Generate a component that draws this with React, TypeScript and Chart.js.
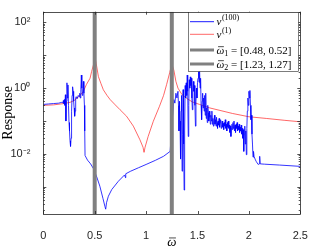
import { useEffect, useRef } from "react";
import { Chart, registerables } from "chart.js";

Chart.register(...registerables);

// ---- data ----
const redOmega = [0, 0.1, 0.2, 0.26, 0.3, 0.357, 0.39, 0.42, 0.455, 0.47, 0.487, 0.497, 0.505, 0.515, 0.536, 0.56, 0.584, 0.62, 0.65, 0.7, 0.747, 0.81, 0.876, 0.94, 0.97, 0.98, 0.99, 1.02, 1.07, 1.13, 1.17, 1.2, 1.23, 1.25, 1.27, 1.29, 1.31, 1.35, 1.39, 1.45, 1.52, 1.62, 1.84, 2.0, 2.17, 2.35, 2.5];
const redResponse = [0.3, 0.31, 0.34, 0.37, 0.42, 0.6, 0.8, 1.3, 2.0, 3.2, 5.0, 7.5, 8.1, 5.5, 2.24, 1.4, 0.89, 0.6, 0.45, 0.31, 0.22, 0.14, 0.07, 0.027, 0.016, 0.0112, 0.016, 0.034, 0.098, 0.28, 0.6, 1.3, 3.0, 5.5, 3.5, 1.6, 1.0, 0.63, 0.5, 0.38, 0.32, 0.25, 0.17, 0.135, 0.12, 0.105, 0.095];

const blueOmega = [
  0, 0.05, 0.1, 0.15, 0.18, 0.19, 0.195, 0.2, 0.205, 0.21, 0.215, 0.22, 0.225, 0.23, 0.235, 0.24, 0.245, 0.25, 0.255, 0.26, 0.265, 0.27, 0.275, 0.28, 0.285, 0.29, 0.295, 0.3, 0.305, 0.31, 0.315, 0.32, 0.33, 0.34, 0.35, 0.355, 0.36, 0.365, 0.37, 0.375, 0.38, 0.385, 0.39, 0.395, 0.4, 0.403, 0.406,
  0.43, 0.46, 0.49, 0.52, 0.55, 0.58, 0.6, 0.607, 0.615, 0.633, 0.666, 0.73, 0.79, 0.8, 0.802, 0.85, 0.925, 1.0, 1.09, 1.17, 1.234, 1.25, 1.27,
  1.28, 1.29, 1.3, 1.31, 1.315, 1.32, 1.325, 1.33, 1.335, 1.34, 1.345, 1.35, 1.355, 1.36, 1.365, 1.37, 1.375, 1.38, 1.385, 1.39, 1.395, 1.4, 1.405, 1.41, 1.415, 1.42, 1.425, 1.43, 1.435, 1.44, 1.445, 1.45, 1.455, 1.46, 1.465, 1.47, 1.475, 1.48, 1.485, 1.49, 1.495, 1.5, 1.505, 1.51, 1.515, 1.52, 1.525, 1.53, 1.535, 1.54, 1.545, 1.55,
  1.555, 1.56, 1.565, 1.57, 1.575, 1.58, 1.585, 1.59, 1.595, 1.6, 1.605, 1.61, 1.615, 1.62, 1.625, 1.63, 1.635, 1.64, 1.645, 1.65, 1.655, 1.66, 1.665, 1.67, 1.675, 1.68, 1.685, 1.69, 1.695, 1.7, 1.705, 1.71, 1.715, 1.72, 1.725, 1.73, 1.735, 1.74, 1.745, 1.75, 1.755, 1.76, 1.765, 1.77, 1.775, 1.78, 1.785, 1.79, 1.795, 1.8, 1.805, 1.81, 1.815, 1.82, 1.825, 1.83, 1.835, 1.84, 1.845, 1.85, 1.855, 1.86, 1.865, 1.87, 1.875, 1.88, 1.885, 1.89, 1.895, 1.9, 1.905, 1.91, 1.915, 1.92, 1.925, 1.93, 1.935, 1.94, 1.945, 1.95, 1.955, 1.96, 1.965, 1.97, 1.975, 1.98, 1.985, 1.99, 1.995, 2.0, 2.005, 2.01, 2.015, 2.02, 2.025, 2.03, 2.035, 2.04, 2.045, 2.05, 2.06, 2.07, 2.09, 2.1, 2.105, 2.11, 2.15, 2.3, 2.5,
];
const blueResponse = [
  0.32, 0.33, 0.34, 0.35, 0.37, 0.36, 0.42, 0.34, 0.45, 0.3, 0.63, 0.1, 0.4, 1.45, 0.5, 1.25, 0.3, 0.09, 0.05, 0.025, 0.017, 0.03, 0.2, 0.6, 1.1, 0.8, 0.4, 0.25, 0.14, 0.2, 0.5, 0.55, 0.48, 0.6, 0.55, 0.7, 0.5, 0.9, 2.5, 1.0, 0.6, 0.8, 1.6, 0.7, 0.3, 0.05, 0.009,
  0.0065, 0.005, 0.0035, 0.002, 0.00105, 0.00045, 0.00025, 0.00021, 0.00033, 0.00052, 0.00083, 0.00148, 0.0023, 0.0019, 0.0025, 0.003, 0.0038, 0.0048, 0.0064, 0.0085, 0.012, 0.07, 0.45,
  0.35, 0.7, 0.5, 0.8, 0.3, 0.05, 0.4, 0.1, 0.007, 0.2, 0.6, 0.003, 0.04, 0.9, 0.02, 0.0008, 0.05, 1.2, 0.5, 1.45, 0.6, 2.5, 0.8, 0.034, 0.3, 1.8, 1.0, 2.2, 1.2, 2.0, 0.5, 0.22, 0.9, 1.6, 0.8, 1.2, 0.3, 0.07, 0.4, 1.0, 0.5, 1.5, 2.0, 3.2, 1.5, 3.5, 1.0, 2.0, 0.3, 0.11, 0.4, 0.7,
  0.25, 0.5, 0.2, 0.6, 0.15, 0.7, 0.12, 0.25, 0.09, 0.3, 0.18, 0.1, 0.2, 0.13, 0.08, 0.15, 0.1, 0.2, 0.08, 0.12, 0.07, 0.1, 0.15, 0.08, 0.11, 0.07, 0.13, 0.09, 0.06, 0.1, 0.075, 0.12, 0.065, 0.09, 0.11, 0.06, 0.08, 0.1, 0.065, 0.085, 0.055, 0.09, 0.07, 0.11, 0.06, 0.08, 0.05, 0.09, 0.065, 0.1, 0.06, 0.075, 0.045, 0.07, 0.034, 0.06, 0.08, 0.055, 0.09, 0.06, 0.1, 0.05, 0.075, 0.045, 0.08, 0.06, 0.09, 0.05, 0.07, 0.055, 0.08, 0.045, 0.065, 0.05, 0.075, 0.04, 0.06, 0.03, 0.055, 0.012, 0.04, 0.07, 0.02, 0.05, 0.0095, 0.06, 0.2, 0.5, 0.3, 0.8, 0.5, 0.85, 0.3, 0.11, 0.15, 0.04, 0.02, 0.008, 0.012, 0.0085, 0.007, 0.006, 0.0048, 0.005, 0.0085, 0.005, 0.0049, 0.0046, 0.0042,
];

const bandCenters = [0.5, 1.25];
const xTickValues = [0, 0.5, 1, 1.5, 2, 2.5];
const yLabelValues = [1e-2, 1, 1e2];
const yLabelTexts = ["10⁻²", "10⁰", "10²"];
const legendTexts = [
  { base: "v", sup: "(100)" },
  { base: "v", sup: "(1)" },
  { base: "ω", sub: "1", rest: " = [0.48, 0.52]" },
  { base: "ω", sub: "2", rest: " = [1.23, 1.27]" },
];
const xTitle = "ω";
const yTitle = "Response";
const yMin = 1.5e-4;
const yMax = 210;
const xMin = 0;
const xMax = 2.5;

const AXIS = "#262626";
const SERIF = "'Liberation Serif', 'DejaVu Serif', serif";
const SANS = "'Liberation Sans', Arial, sans-serif";

// draws an italic omega with a bar over it; returns width
function drawOmegaBar(ctx: CanvasRenderingContext2D, x: number, y: number, size: number) {
  ctx.font = `italic ${size}px ${SERIF}`;
  ctx.fillText("ω", x, y);
  const w = ctx.measureText("ω").width;
  ctx.save();
  ctx.strokeStyle = ctx.fillStyle as string;
  ctx.lineWidth = 0.7;
  ctx.beginPath();
  const by = y - size * 0.62;
  ctx.moveTo(x + w * 0.2, by);
  ctx.lineTo(x + w * 0.95, by);
  ctx.stroke();
  ctx.restore();
  return w;
}

const boxTicksPlugin = {
  id: "boxTicks",
  afterDatasetsDraw(chart: any) {
    const { ctx, chartArea: a, scales } = chart;
    const xs = scales.x;
    const ys = scales.y;
    ctx.save();
    ctx.strokeStyle = AXIS;
    ctx.lineWidth = 0.8;
    ctx.beginPath();
    for (const v of xTickValues) {
      const px = Math.round(xs.getPixelForValue(v)) + 0.5;
      ctx.moveTo(px, a.bottom);
      ctx.lineTo(px, a.bottom - 3);
      ctx.moveTo(px, a.top);
      ctx.lineTo(px, a.top + 3);
    }
    for (let e = -4; e <= 2; e++) {
      for (let m = 1; m <= 9; m++) {
        const v = m * Math.pow(10, e);
        if (v < yMin || v > yMax) continue;
        const py = Math.round(ys.getPixelForValue(v)) + 0.5;
        const len = m === 1 ? 3 : 1.6;
        ctx.moveTo(a.left, py);
        ctx.lineTo(a.left + len, py);
        ctx.moveTo(a.right, py);
        ctx.lineTo(a.right - len, py);
      }
    }
    ctx.stroke();
    ctx.strokeRect(Math.round(a.left) + 0.5, Math.round(a.top) + 0.5, Math.round(a.right - a.left), Math.round(a.bottom - a.top));
    // x-axis title (omega with bar)
    ctx.fillStyle = "#000";
    ctx.textBaseline = "alphabetic";
    ctx.font = `italic 13px ${SERIF}`;
    const w = ctx.measureText(xTitle).width;
    drawOmegaBar(ctx, (a.left + a.right) / 2 - w / 2, 246, 13);
    ctx.restore();
  },
};

const legendPlugin = {
  id: "boxLegend",
  afterDraw(chart: any) {
    const { ctx } = chart;
    const x0 = 188.5, y0 = 12.5, x1 = 298.5, y1 = 71.5;
    ctx.save();
    ctx.fillStyle = "#ffffff";
    ctx.fillRect(x0, y0, x1 - x0, y1 - y0);
    ctx.strokeStyle = AXIS;
    ctx.lineWidth = 0.6;
    ctx.strokeRect(x0, y0, x1 - x0, y1 - y0);
    const lx0 = 190, lx1 = 214, tx = 216.5;
    const rows = [
      { y: 21.7, color: "rgb(0,0,255)", w: 0.9, base: 25 },
      { y: 34.3, color: "rgb(255,0,0)", w: 0.6, base: 38 },
      { y: 50, color: "rgb(128,128,128)", w: 3, base: 53.5 },
      { y: 64, color: "rgb(128,128,128)", w: 3, base: 67.5 },
    ];
    rows.forEach((r, i) => {
      ctx.strokeStyle = r.color;
      ctx.lineWidth = r.w;
      ctx.beginPath();
      ctx.moveTo(lx0, r.y);
      ctx.lineTo(lx1, r.y);
      ctx.stroke();
      const t: any = legendTexts[i];
      ctx.fillStyle = "#000";
      ctx.textBaseline = "alphabetic";
      if (t.sup) {
        ctx.font = `italic 11px ${SERIF}`;
        ctx.fillText(t.base, tx, r.base);
        const w = ctx.measureText(t.base).width;
        ctx.font = `8px ${SERIF}`;
        ctx.fillText(t.sup, tx + w + 0.5, r.base - 5);
      } else {
        let w = drawOmegaBar(ctx, tx, r.base, 11);
        ctx.font = `8px ${SERIF}`;
        ctx.fillText(t.sub, tx + w, r.base + 2);
        w += ctx.measureText(t.sub).width;
        ctx.font = `11px ${SERIF}`;
        ctx.fillText(t.rest, tx + w, r.base);
      }
    });
    ctx.restore();
  },
};

export default function App() {
  const ref = useRef<HTMLCanvasElement | null>(null);
  useEffect(() => {
    if (!ref.current) return;
    const red = redOmega.map((x, i) => ({ x, y: redResponse[i] }));
    const blue = blueOmega.map((x, i) => ({ x, y: blueResponse[i] }));
    const bands = bandCenters.map((c) => ({
      label: "band",
      data: [
        { x: c, y: yMin },
        { x: c, y: yMax },
      ],
      borderColor: "rgb(128,128,128)",
      borderWidth: 4,
      pointRadius: 0,
      order: 0,
    }));
    const chart = new Chart(ref.current, {
      type: "line",
      data: {
        datasets: [
          ...bands,
          { label: "v(100)", data: blue, borderColor: "rgb(0,0,255)", borderWidth: 0.8, pointRadius: 0, order: 1 },
          { label: "v(1)", data: red, borderColor: "rgb(255,0,0)", borderWidth: 0.6, pointRadius: 0, order: 2 },
        ] as any,
      },
      options: {
        animation: false,
        responsive: false,
        devicePixelRatio: 1,
        layout: { padding: { left: 0, top: 11.7, right: 31.7, bottom: 0 } },
        plugins: { legend: { display: false }, tooltip: { enabled: false } },
        elements: { line: { tension: 0 } },
        scales: {
          x: {
            type: "linear",
            min: xMin,
            max: xMax,
            grid: { display: false },
            border: { display: false },
            afterBuildTicks: (s: any) => {
              s.ticks = xTickValues.map((v) => ({ value: v }));
            },
            afterFit: (s: any) => {
              s.height = 35;
            },
            ticks: {
              padding: 7,
              color: AXIS,
              font: { family: SANS, size: 11 },
              maxRotation: 0,
              autoSkip: false,
              callback: (v: any) => String(v),
            },
          },
          y: {
            type: "logarithmic",
            min: yMin,
            max: yMax,
            grid: { display: false },
            border: { display: false },
            afterBuildTicks: (s: any) => {
              s.ticks = yLabelValues.map((v) => ({ value: v }));
            },
            afterFit: (s: any) => {
              s.width = 43.3;
            },
            ticks: {
              padding: 5,
              color: AXIS,
              font: { family: SANS, size: 11 },
              autoSkip: false,
              callback: (v: any) => {
                const i = yLabelValues.indexOf(Number(v));
                return i >= 0 ? yLabelTexts[i] : "";
              },
            },
            title: {
              display: true,
              text: yTitle,
              color: "#000",
              font: { family: SERIF, size: 14 },
              padding: { top: 0, bottom: 0 },
            },
          },
        },
      },
      plugins: [boxTicksPlugin, legendPlugin],
    });
    return () => chart.destroy();
  }, []);
  return (
    <div style={{ position: "absolute", left: 0, top: 0, width: 332, height: 249, background: "#fff" }}>
      <canvas ref={ref} width={332} height={249} style={{ width: 332, height: 249, display: "block" }} />
    </div>
  );
}
